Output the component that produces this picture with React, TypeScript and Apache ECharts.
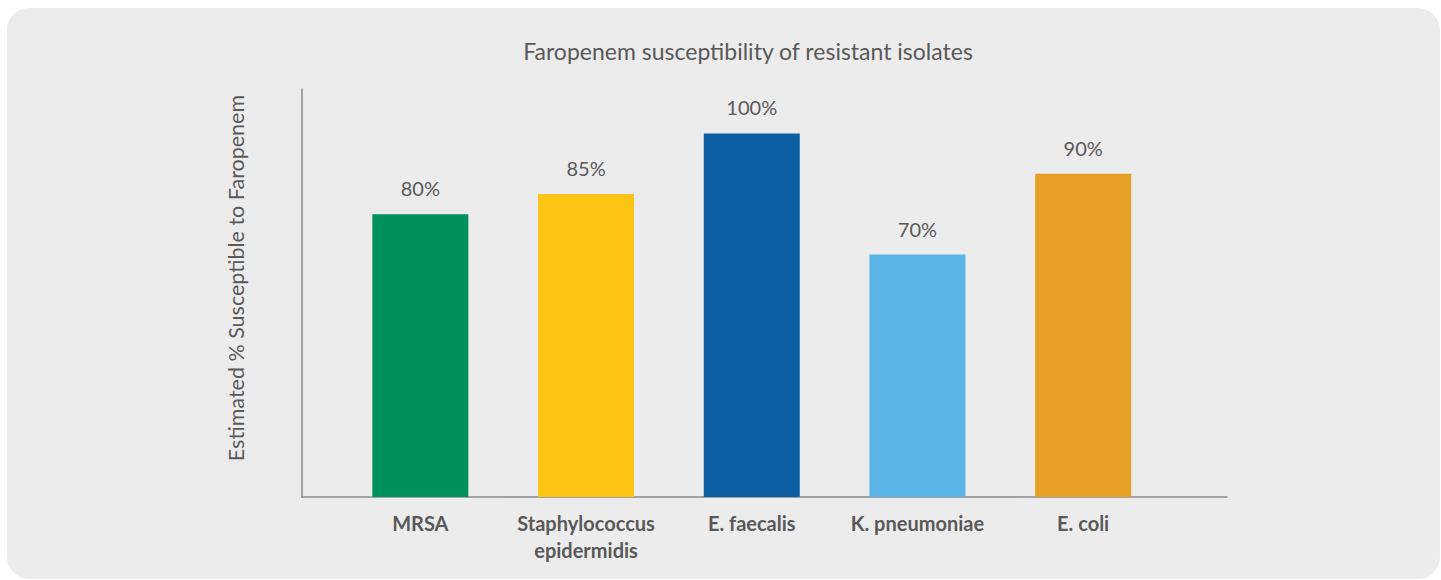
import React, { useEffect, useRef } from "react";
import * as echarts from "echarts";

const categories = [
  "MRSA",
  "Staphylococcus\nepidermidis",
  "E. faecalis",
  "K. pneumoniae",
  "E. coli",
];
const susceptibility = [80, 85, 100, 70, 90];
const barColors = ["#00905b", "#fec514", "#0c5fa2", "#5ab4e7", "#e5a025"];

const titleText = "Faropenem susceptibility of resistant isolates";
const yAxisTitle = "Estimated % Susceptible to Faropenem";

const FONT = "Lato, 'Open Sans', sans-serif";
const TEXT = "#595959";

export default function App() {
  const ref = useRef<HTMLDivElement>(null);
  useEffect(() => {
    if (!ref.current) return;
    const chart = echarts.init(ref.current, undefined, { renderer: "svg" });
    chart.setOption({
      animation: false,
      backgroundColor: "#ffffff",
      textStyle: { fontFamily: FONT },
      title: {
        text: titleText,
        left: 743,
        top: 34,
        textAlign: "center",
        textStyle: { fontFamily: FONT, fontSize: 23, fontWeight: "normal", color: TEXT },
      },
      graphic: [
        {
          type: "rect",
          z: -10,
          silent: true,
          shape: { x: 7, y: 8, width: 1433, height: 571, r: 22 },
          style: { fill: "#ececec" },
        },
        {
          type: "text",
          x: 236,
          y: 278,
          rotation: Math.PI / 2,
          style: {
            text: yAxisTitle,
            fontFamily: FONT,
            fontSize: 21.5,
            fill: TEXT,
            align: "center",
            verticalAlign: "middle",
          },
        },
      ],
      grid: [
        { left: 337.5, right: 275, top: 89, bottom: 83 },
        { left: 302, right: 214, top: 89, bottom: 83 },
      ],
      xAxis: [
        {
          type: "category",
          gridIndex: 0,
          data: categories,
          axisLine: { show: false },
          axisTick: { show: false },
          axisLabel: {
            margin: 12,
            color: TEXT,
            fontFamily: FONT,
            fontSize: 20,
            fontWeight: "bold",
            lineHeight: 27,
            interval: 0,
          },
        },
        {
          type: "category",
          gridIndex: 1,
          data: [""],
          axisLine: { show: true, onZero: false, lineStyle: { color: "#8a8a8a", width: 1.5 } },
          axisTick: { show: false },
          axisLabel: { show: false },
        },
      ],
      yAxis: [
        {
          type: "value",
          gridIndex: 0,
          min: 10,
          max: 111,
          axisLine: { show: false },
          axisTick: { show: false },
          axisLabel: { show: false },
          splitLine: { show: false },
        },
        {
          type: "value",
          gridIndex: 1,
          min: 0,
          max: 1,
          axisLine: { show: true, onZero: false, lineStyle: { color: "#8a8a8a", width: 1.5 } },
          axisTick: { show: false },
          axisLabel: { show: false },
          splitLine: { show: false },
        },
      ],
      series: [
        {
          type: "bar",
          xAxisIndex: 0,
          yAxisIndex: 0,
          barWidth: 96,
          data: susceptibility.map((v, i) => ({ value: v, itemStyle: { color: barColors[i] } })),
          label: {
            show: true,
            position: "top",
            distance: 16,
            formatter: "{c}%",
            fontFamily: FONT,
            fontSize: 20,
            color: TEXT,
          },
        },
      ],
    });
    return () => chart.dispose();
  }, []);
  return (
    <div
      ref={ref}
      style={{ position: "absolute", left: 0, top: 0, width: 1441, height: 580 }}
    />
  );
}
